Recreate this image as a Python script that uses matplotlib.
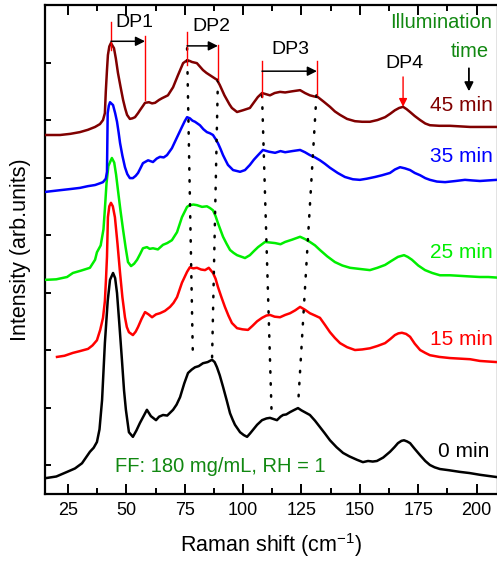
import numpy as np
import matplotlib
matplotlib.use("Agg")
import matplotlib.pyplot as plt

plt.rcParams['font.family'] = ['Liberation Sans', 'DejaVu Sans']
plt.rcParams['mathtext.fontset'] = 'custom'
plt.rcParams['mathtext.rm'] = 'Liberation Sans'
plt.rcParams['mathtext.default'] = 'regular'

# spectra (Raman shift, offset intensity)
x_0min = [15.2, 20, 24.6, 28, 31, 34.4, 36, 37.4, 38.5, 39.6, 40.8, 42, 43, 44.3, 45.2, 46, 47, 48.1, 49, 49.8,
          51.1, 52.8, 54.3, 55.8, 57.5, 58.8, 60.5, 62.7, 64, 65.7, 67.5, 70, 71.5, 73, 74.8, 76.4, 78, 79.4, 81,
          82.8, 84.8, 86.7, 87.8, 88.8, 90, 91.4, 93, 94.4, 95.5, 96.5, 98.7, 100.3, 101.7, 103, 104.2, 106, 108.1,
          110, 111.5, 113, 114.5, 116, 117.1, 118.5, 120.1, 122, 123.5, 125, 126.8, 128.6, 130.8, 132.9, 135, 137.2,
          140, 142.8, 145.5, 148.8, 151.3, 153.5, 155.5, 157.3, 160, 162.9, 164.8, 166.3, 167.8, 168.9, 170.2,
          171.5, 173.5, 175.8, 178, 180, 182, 184.3, 188, 192.9, 197, 201.4, 205, 208.7]
y_0min = [-0.23, -0.20, -0.12, -0.06, 0.03, 0.23, 0.30, 0.40, 0.62, 1.13, 2.12, 2.85, 3.22, 3.34, 3.25, 2.99, 2.45,
          1.83, 1.30, 0.96, 0.57, 0.49, 0.60, 0.73, 0.86, 0.96, 0.85, 0.78, 0.84, 0.87, 0.86, 0.96, 1.05, 1.18, 1.42,
          1.60, 1.66, 1.70, 1.72, 1.77, 1.79, 1.83, 1.79, 1.70, 1.56, 1.36, 1.12, 0.90, 0.79, 0.70, 0.57, 0.52, 0.49,
          0.55, 0.61, 0.70, 0.78, 0.81, 0.82, 0.80, 0.78, 0.84, 0.87, 0.88, 0.92, 0.96, 0.99, 0.95, 0.91, 0.87, 0.77,
          0.66, 0.55, 0.43, 0.31, 0.21, 0.15, 0.09, 0.05, 0.07, 0.06, 0.07, 0.13, 0.23, 0.31, 0.38, 0.42, 0.43, 0.41,
          0.38, 0.28, 0.17, 0.07, 0.0, -0.04, -0.07, -0.09, -0.12, -0.14, -0.17, -0.19, -0.21]

x_15min = [20.3, 23.5, 27.1, 30, 33.6, 35.5, 37.4, 38.8, 40, 40.8, 41.3, 41.7, 42.1, 42.7, 43.4, 44.2, 45.1, 46.2,
           47.3, 48.3, 49.4, 50.2, 51.1, 52.8, 54, 55, 56.5, 58, 59.5, 61, 62.7, 64.4, 66.5, 68.7, 70.2, 71.7, 73.8,
           76, 77.2, 78.7, 80.2, 82, 83.7, 85.3, 87.1, 88.2, 89.2, 90.7, 92.2, 93.7, 95.2, 97.4, 99.7, 102.1, 104,
           106, 108.1, 110, 111.5, 113.5, 115.8, 118, 120.1, 122.3, 124.4, 126.5, 128.6, 130.8, 132.9, 135, 137.2,
           139.3, 141.5, 144.5, 147.9, 151, 154.3, 157.5, 160.8, 163, 165, 166.5, 168, 169.8, 171.5, 173.5, 175.8,
           178, 180, 184, 188.6, 192.9, 197.2, 201.4, 205, 208.7]
y_15min = [1.88, 1.90, 1.95, 1.98, 2.02, 2.08, 2.17, 2.35, 2.56, 2.85, 3.25, 3.62, 4.31, 4.50, 4.56, 4.50, 4.31,
           3.85, 3.34, 2.92, 2.57, 2.40, 2.31, 2.26, 2.32, 2.40, 2.54, 2.66, 2.62, 2.57, 2.62, 2.64, 2.68, 2.75, 2.82,
           2.92, 3.17, 3.36, 3.44, 3.42, 3.43, 3.40, 3.39, 3.43, 3.34, 3.24, 3.10, 2.92, 2.75, 2.60, 2.47, 2.38, 2.36,
           2.35, 2.42, 2.50, 2.56, 2.60, 2.61, 2.58, 2.57, 2.61, 2.64, 2.69, 2.75, 2.70, 2.64, 2.60, 2.56, 2.44, 2.31,
           2.21, 2.12, 2.05, 2.00, 2.01, 2.03, 2.07, 2.12, 2.19, 2.26, 2.29, 2.30, 2.28, 2.23, 2.11, 2.00, 1.95, 1.91,
           1.88, 1.86, 1.85, 1.84, 1.81, 1.80, 1.79]

x_25min = [15.2, 20, 24.6, 27.1, 30.5, 34.4, 36.6, 37.4, 39, 40.2, 40.8, 41.5, 42.3, 43.8, 44.8, 45.6, 46.4, 47.5,
           48.6, 49.7, 50.7, 52, 53.3, 54.6, 55.9, 57.1, 58.8, 60, 61.4, 63.5, 65.7, 67.5, 69.5, 71.7, 73.8, 76, 77.2,
           78.7, 80.2, 82.4, 84.5, 85.8, 87.1, 88.2, 89.2, 90.3, 91.4, 92.9, 94.4, 95.9, 97.4, 100.8, 102.9, 104.6,
           106.4, 109.4, 111.5, 113.7, 116, 118, 121, 124.4, 126.5, 128.6, 130.8, 132.9, 136, 139.3, 142.5, 145.8,
           150, 154.3, 157.5, 160.8, 163.5, 166.3, 168.9, 170.5, 172.3, 175, 177.9, 181, 184.3, 188.6, 192.9, 197,
           201.4, 205, 208.7]
y_25min = [3.22, 3.23, 3.27, 3.34, 3.38, 3.43, 3.57, 3.70, 3.82, 4.10, 4.45, 4.90, 5.20, 5.34, 5.26, 5.05, 4.78,
           4.42, 4.09, 3.78, 3.53, 3.46, 3.50, 3.57, 3.67, 3.77, 3.79, 3.76, 3.77, 3.75, 3.83, 3.86, 3.91, 4.05, 4.31,
           4.49, 4.52, 4.53, 4.52, 4.49, 4.50, 4.47, 4.43, 4.33, 4.21, 4.09, 3.97, 3.85, 3.74, 3.69, 3.65, 3.60, 3.65,
           3.72, 3.79, 3.88, 3.87, 3.86, 3.84, 3.88, 3.92, 3.97, 3.93, 3.88, 3.82, 3.74, 3.63, 3.53, 3.47, 3.43, 3.41,
           3.39, 3.43, 3.48, 3.55, 3.62, 3.65, 3.62, 3.57, 3.47, 3.39, 3.34, 3.30, 3.30, 3.29, 3.28, 3.27, 3.27, 3.26]

x_35min = [15.2, 21.6, 26, 30.1, 33.5, 36.6, 38.7, 40, 41.2, 41.7, 42, 42.5, 43, 44.3, 45.2, 46, 46.7, 47.3, 48.3,
           49.4, 50.4, 51.5, 52.8, 54, 55, 56, 57.1, 59.3, 61.4, 63, 64.4, 66, 67.4, 69.5, 71.7, 73.8, 75, 76, 77.2,
           78.3, 79.4, 81.5, 83, 84.5, 85.8, 87.1, 88.2, 89.2, 90.3, 91.4, 92.5, 93.5, 95.7, 98.7, 100.8, 102.9,
           104.6, 106.4, 108.5, 111, 113.7, 116, 118, 121, 124.4, 126.5, 128.6, 130.8, 132.9, 135, 137.2, 140.5,
           143.6, 147, 150, 153, 156.5, 159.5, 162.9, 165, 167.2, 169.3, 171.5, 173.5, 175.8, 178, 180, 183, 186.5,
           191, 195, 198, 201.4, 205, 208.7]
y_35min = [4.75, 4.78, 4.80, 4.82, 4.85, 4.87, 4.90, 4.92, 4.98, 5.10, 6.12, 6.25, 6.31, 6.26, 6.12, 5.97, 5.78,
           5.60, 5.38, 5.18, 5.06, 4.99, 4.99, 5.03, 5.08, 5.16, 5.25, 5.30, 5.27, 5.33, 5.36, 5.35, 5.39, 5.51, 5.70,
           5.88, 5.98, 6.05, 6.03, 5.99, 5.97, 5.91, 5.84, 5.79, 5.77, 5.74, 5.67, 5.60, 5.50, 5.39, 5.30, 5.22, 5.13,
           5.10, 5.13, 5.22, 5.31, 5.39, 5.48, 5.45, 5.43, 5.46, 5.44, 5.46, 5.48, 5.44, 5.39, 5.35, 5.30, 5.24, 5.17,
           5.08, 5.01, 4.97, 4.96, 4.98, 5.01, 5.04, 5.08, 5.14, 5.18, 5.16, 5.13, 5.08, 5.04, 4.99, 4.96, 4.93, 4.92,
           4.94, 4.96, 4.95, 4.94, 4.95, 4.96]

x_45min = [15.2, 21.6, 26, 30.1, 33.5, 36.6, 38.7, 40, 40.8, 41.2, 41.7, 42.1, 42.7, 43.4, 44.7, 45.5, 46.4, 47.5,
           48.6, 49.5, 50.3, 51.5, 52.6, 53.7, 55, 55.8, 57, 58, 59.7, 61, 62.3, 64, 65.3, 67.8, 70, 72.1, 74.3, 76,
           77, 78.1, 80.2, 81.5, 82.8, 84.3, 85.8, 87.3, 88.8, 90, 91, 92, 93.1, 94.2, 95.2, 97.4, 99.9, 102.9, 104.5,
           106.3, 108.1, 111.5, 113.5, 115.8, 118, 121, 124.4, 126.5, 128.6, 130.5, 132, 134.5, 137.2, 139.3, 141.5,
           144.5, 147.9, 151, 154.3, 157.5, 160.8, 163, 165, 166.8, 168.5, 170, 171.5, 173.5, 175.8, 178, 180, 184,
           188.6, 192.9, 197.2, 201.4, 205, 208.7]
y_45min = [5.74, 5.74, 5.76, 5.79, 5.83, 5.88, 5.93, 6.00, 6.12, 6.50, 6.87, 7.13, 7.28, 7.34, 7.25, 7.07, 6.82,
           6.58, 6.35, 6.20, 6.09, 6.02, 6.03, 6.05, 6.12, 6.17, 6.24, 6.30, 6.31, 6.29, 6.30, 6.35, 6.38, 6.43, 6.57,
           6.78, 6.99, 7.04, 7.03, 7.01, 6.99, 6.93, 6.87, 6.82, 6.78, 6.74, 6.70, 6.61, 6.52, 6.43, 6.35, 6.27, 6.21,
           6.14, 6.17, 6.21, 6.30, 6.40, 6.47, 6.43, 6.47, 6.49, 6.48, 6.50, 6.52, 6.47, 6.43, 6.41, 6.40, 6.32, 6.23,
           6.15, 6.09, 6.02, 5.98, 5.97, 5.97, 6.00, 6.05, 6.11, 6.17, 6.21, 6.23, 6.19, 6.14, 6.07, 6.00, 5.94, 5.91,
           5.90, 5.90, 5.89, 5.88, 5.88, 5.88, 5.88]

labels = ['0 min', '15 min', '25 min', '35 min', '45 min']
colors = ['black', '#ff0000', '#00ee00', '#0000ff', '#800000']
label_y = [0.23, 2.19, 3.70, 5.36, 6.26]

# dotted guide lines for DP2 / DP3 (x top, y top, x bottom, y bottom)
guides = [(76.0, 7.25, 78.5, 1.85), (89.2, 6.70, 86.7, 1.85),
          (108.1, 6.43, 112.2, 0.90), (131.4, 6.43, 123.5, 1.02)]
# DP markers: (x left, left y0, left y1, x right, right y0, right y1, arrow y)
dp_marks = [(43.4, 7.22, 7.70, 58.0, 6.35, 7.46, 7.37),
            (76.0, 6.96, 7.53, 89.2, 6.70, 7.30, 7.29),
            (108.1, 6.40, 7.03, 131.6, 6.43, 7.03, 6.85)]
dp_names = ['DP1', 'DP2', 'DP3', 'DP4']
dp_text_pos = [(53.3, 7.70), (86.2, 7.63), (120.1, 7.23), (168.9, 6.99)]

fig = plt.figure(figsize=(4.97, 5.63), dpi=100)
ax = fig.add_axes([0.0898, 0.123, 0.9115, 0.868])

series = [(x_0min, y_0min), (x_15min, y_15min), (x_25min, y_25min), (x_35min, y_35min), (x_45min, y_45min)]
for (xs, ys), c in zip(series, colors):
    ax.plot(xs, ys, color=c, lw=1.8, zorder=3)

for (x1, y1, x2, y2) in guides:
    ax.plot([x1, x2], [y1, y2], color='black', lw=1.8, ls=(0, (0.6, 4.2)),
            dash_capstyle='round', zorder=4)

for (xl, yl0, yl1, xr, yr0, yr1, ya) in dp_marks:
    ax.plot([xl, xl], [yl0, yl1], color='#ff0000', lw=1.0, zorder=5)
    ax.plot([xr, xr], [yr0, yr1], color='#ff0000', lw=1.0, zorder=5)
    ax.annotate('', xy=(xr, ya), xytext=(xl, ya),
                arrowprops=dict(arrowstyle='-|>', color='black', lw=1.1,
                                mutation_scale=14, shrinkA=0, shrinkB=0), zorder=6)

# DP4 red arrow and the illumination-time arrow
ax.annotate('', xy=(168.5, 6.23), xytext=(168.5, 6.75),
            arrowprops=dict(arrowstyle='-|>', color='#ff0000', lw=1.0,
                            mutation_scale=12, shrinkA=0, shrinkB=0), zorder=6)
ax.annotate('', xy=(196.7, 6.50), xytext=(196.7, 6.90),
            arrowprops=dict(arrowstyle='-|>', color='black', lw=1.3,
                            mutation_scale=13, shrinkA=0, shrinkB=0), zorder=6)

for name, (tx, ty) in zip(dp_names, dp_text_pos):
    ax.text(tx, ty, name, fontsize=14, ha='center', va='center', color='black')

ax.text(184.9, 7.70, 'Illumination', fontsize=14.5, ha='center', va='center', color='#118811')
ax.text(197.2, 7.20, 'time', fontsize=14.5, ha='center', va='center', color='#118811')

for lab, c, ly in zip(labels, colors, label_y):
    xr = 205.3 if lab == '0 min' else 207.0
    ax.text(xr, ly, lab, fontsize=15, ha='right', va='center', color=c)

ax.text(45.1, -0.03, 'FF: 180 mg/mL, RH = 1', fontsize=14.5, ha='left', va='center', color='#118811')

ax.set_xlim(15, 209)
ax.set_ylim(-0.5, 8.0)
ax.set_xticks([25, 50, 75, 100, 125, 150, 175, 200])
ax.set_xticks(np.arange(37.5, 209, 25), minor=True)
ax.set_yticks(np.arange(0, 8))
ax.set_yticklabels([])
ax.tick_params(axis='x', which='major', direction='in', length=7, width=1.4, top=True,
               labelsize=13, pad=6)
ax.tick_params(axis='x', which='minor', direction='in', length=4, width=1.4, top=True)
ax.tick_params(axis='y', which='major', direction='in', length=4, width=1.4, right=False)
for s in ax.spines.values():
    s.set_linewidth(1.6)

ax.set_xlabel('Raman shift (cm$^{-1}$)', fontsize=15.5, labelpad=9)
ax.set_ylabel('Intensity (arb.units)', fontsize=15.5, labelpad=6)

fig.savefig('out.png', dpi=100)
